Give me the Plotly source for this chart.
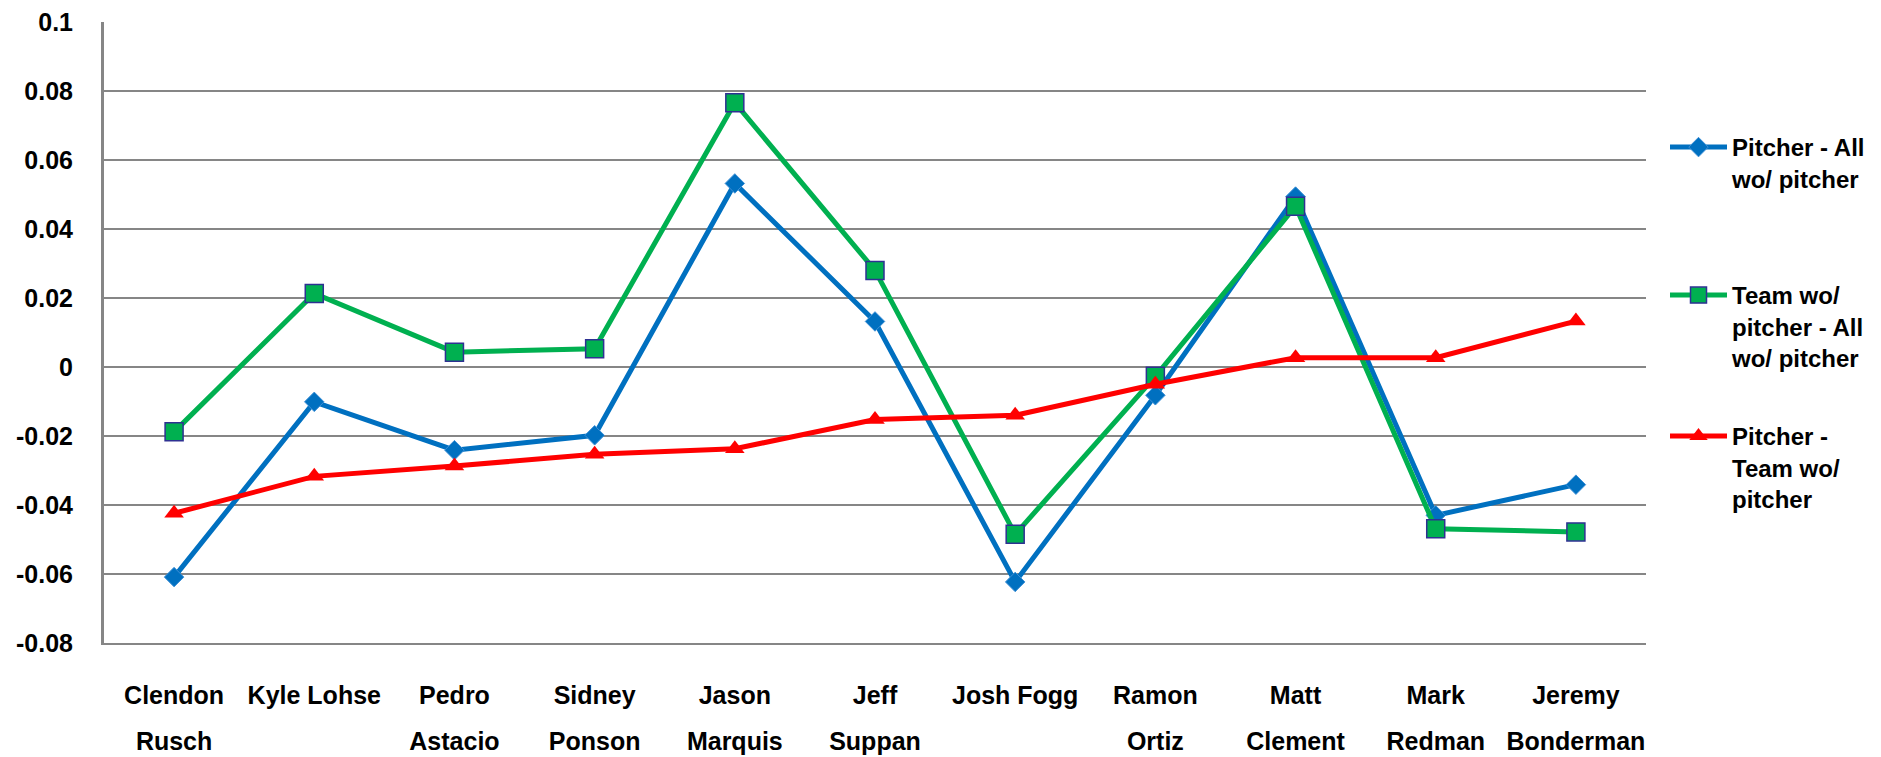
import plotly.graph_objects as go

categories = ["Clendon Rusch", "Kyle Lohse", "Pedro Astacio", "Sidney Ponson", "Jason Marquis",
              "Jeff Suppan", "Josh Fogg", "Ramon Ortiz", "Matt Clement", "Mark Redman", "Jeremy Bonderman"]
label_line1 = ["Clendon", "Kyle Lohse", "Pedro", "Sidney", "Jason", "Jeff", "Josh Fogg",
               "Ramon", "Matt", "Mark", "Jeremy"]
label_line2 = ["Rusch", "", "Astacio", "Ponson", "Marquis", "Suppan", "", "Ortiz",
               "Clement", "Redman", "Bonderman"]

pitcher_all = [-0.0609, -0.0101, -0.0241, -0.0198, 0.0532, 0.0132, -0.0623, -0.0082, 0.0494, -0.0430, -0.0341]
team_all = [-0.0188, 0.0213, 0.0043, 0.0053, 0.0766, 0.0280, -0.0485, -0.0027, 0.0466, -0.0469, -0.0478]
pitcher_team = [-0.0424, -0.0317, -0.0287, -0.0253, -0.0237, -0.0152, -0.0140, -0.0050, 0.0027, 0.0027, 0.0133]

series_names = ["Pitcher - All<br>wo/ pitcher", "Team wo/<br>pitcher - All<br>wo/ pitcher",
                "Pitcher -<br>Team wo/<br>pitcher"]

y_tickvals = [0.1, 0.08, 0.06, 0.04, 0.02, 0, -0.02, -0.04, -0.06, -0.08]
y_ticktext = ["0.1", "0.08", "0.06", "0.04", "0.02", "0", "-0.02", "-0.04", "-0.06", "-0.08"]

FONT = "Liberation Sans, Arial, sans-serif"
FS = 25
GRID = "#868686"
W, H = 1881, 757

idx = list(range(len(categories)))

def bold(s):
    return "<b>" + s + "</b>" if s else s

fig = go.Figure()
fig.add_trace(go.Scatter(
    x=idx, y=pitcher_all, name=bold(series_names[0]), mode="lines+markers",
    line=dict(color="#0070C0", width=5),
    marker=dict(symbol="diamond", size=15, color="#0070C0", line=dict(color="#3d8fd6", width=1)),
    legend="legend", showlegend=True, customdata=categories))
fig.add_trace(go.Scatter(
    x=idx, y=team_all, name=bold(series_names[1]), mode="lines+markers",
    line=dict(color="#00B050", width=5),
    marker=dict(symbol="square", size=18, color="#00B050", line=dict(color="#2E3192", width=1.5)),
    legend="legend2", showlegend=True, customdata=categories))
fig.add_trace(go.Scatter(
    x=idx, y=pitcher_team, name=bold(series_names[2]), mode="lines+markers",
    xaxis="x2",
    line=dict(color="#FF0000", width=5),
    marker=dict(symbol="triangle-up", size=17, color="#FF0000", line=dict(width=0)),
    legend="legend3", showlegend=True, customdata=categories))

def leg(top_px):
    return dict(xref="container", yref="container", x=1665 / W, y=1 - top_px / H,
                xanchor="left", yanchor="top", valign="top", itemwidth=57,
                font=dict(family=FONT, size=24, color="black"),
                bgcolor="rgba(0,0,0,0)", borderwidth=0, visible=True)

tickfont = dict(family=FONT, size=FS, color="black")

fig.update_layout(
    width=W, height=H,
    margin=dict(l=104, r=W - 1646, t=22, b=H - 643, autoexpand=False),
    paper_bgcolor="white", plot_bgcolor="white",
    font=dict(family=FONT, size=FS, color="black"),
    showlegend=True,
    xaxis=dict(range=[-0.5, len(categories) - 0.5], tickmode="array", tickvals=idx,
               ticktext=[bold(s) for s in label_line1], showgrid=False, zeroline=False, showline=True,
               linecolor=GRID, linewidth=2, ticks="", ticklabelstandoff=29, tickfont=tickfont,
               automargin=False),
    xaxis2=dict(range=[-0.5, len(categories) - 0.5], overlaying="x", matches="x", side="bottom",
                anchor="y", tickmode="array", tickvals=idx, ticktext=[bold(s) for s in label_line2],
                showgrid=False, zeroline=False, showline=False, ticks="", ticklabelstandoff=81,
                tickfont=tickfont, automargin=False),
    yaxis=dict(range=[-0.08, 0.1], tickmode="array", tickvals=y_tickvals,
               ticktext=[bold(s) for s in y_ticktext],
               showgrid=True, gridcolor=GRID, gridwidth=2, zeroline=False, showline=True,
               linecolor=GRID, linewidth=3, ticks="", ticklabelstandoff=23, tickfont=tickfont,
               automargin=False),
    legend=leg(125),
    legend2=leg(273),
    legend3=leg(414),
)

fig.write_html("out.html")
